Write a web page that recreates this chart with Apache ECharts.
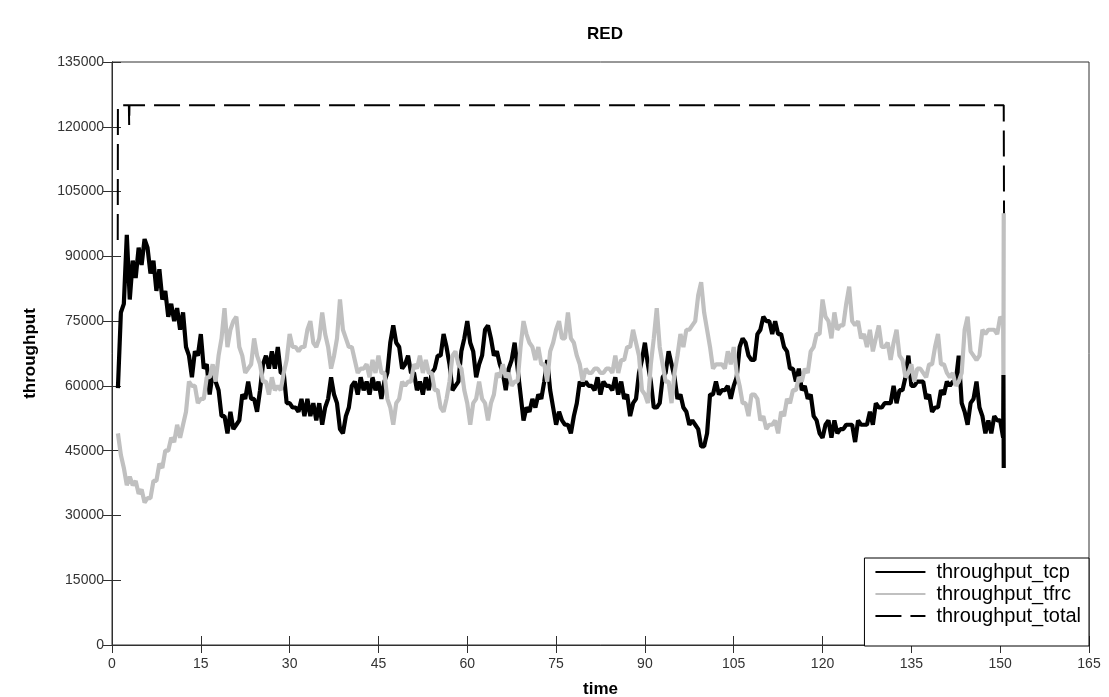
<!DOCTYPE html>
<html>
<head>
<meta charset="utf-8">
<script src="https://cdn.jsdelivr.net/npm/echarts@6/dist/echarts.min.js"></script>
<style>
html,body{margin:0;padding:0;background:#fff;}
#chart{width:1109px;height:697px;}
</style>
</head>
<body>
<div id="chart"></div>
<script>
// Sampling of the noisy series: start time and step (time units)
const sampleStart = 1.0;
const sampleStep = 0.5;

// throughput_tcp, in thousands (t = 1.0 ... 150.5)
const tcpK = [
59.5, 77, 79, 95, 80, 89, 85, 92, 88, 94,
92, 86, 89, 82, 87, 80, 82, 76, 79, 75,
78, 73, 77, 69, 67, 62, 68, 67, 72, 64,
65, 58, 63, 61, 59, 53, 53, 49, 54, 50,
51, 52, 58, 57, 61, 57, 57, 54, 59, 65,
67, 64, 68, 64, 69, 63, 63, 56, 56, 55,
55, 54, 57, 53, 57, 53, 56, 52, 56, 51,
55, 57, 62, 58, 56, 50, 49, 53, 55, 60,
61, 58, 62, 59, 61, 58, 62, 59, 61, 57,
61, 63, 70, 74, 70, 69, 64, 65, 67, 63,
63, 59, 61, 58, 62, 59, 63, 64, 67, 67,
72, 69, 65, 59, 60, 61, 68, 71, 75, 70,
68, 62, 65, 67, 73, 74, 71, 67, 68, 65,
63, 59, 64, 66, 70, 64, 58, 52, 55, 54,
57, 55, 58, 57, 61, 66, 59, 55, 51, 54,
52, 51, 51, 49, 53, 56, 61, 60, 61, 60,
60, 59, 62, 58, 61, 60, 60, 59, 62, 58,
61, 57, 58, 53, 56, 57, 63, 66, 70, 65,
61, 55, 55, 56, 62, 63, 68, 65, 62, 57,
58, 55, 54, 51, 52, 51, 50, 46, 46, 49,
58, 58, 61, 58, 59, 59, 60, 57, 60, 62,
69, 71, 70, 67, 66, 66, 72, 73, 76, 75,
75, 72, 75, 72, 72, 69, 68, 64, 64, 61,
64, 59, 60, 57, 58, 53, 52, 49, 48, 51,
52, 48, 52, 49, 50, 50, 51, 51, 51, 47,
52, 51, 51, 51, 54, 51, 56, 55, 55, 56,
56, 56, 60, 56, 59, 59, 62, 67, 60, 60,
61, 61, 61, 57, 58, 54, 55, 55, 59, 58,
61, 60, 61, 61, 67, 56, 54, 51, 56, 57,
61, 55, 53, 49, 52, 49, 53, 52, 52, 48
];
const tcpEndT = [150.55, 150.6];
const tcpEndK = [62.5, 41];

// throughput_tfrc, in thousands (t = 1.0 ... 150.5)
const tfrcK = [
49, 44, 41, 37, 39, 37, 38, 35, 36, 33,
34, 34, 38, 38, 42, 41, 45, 45, 48, 47,
51, 48, 51, 54, 61, 60, 60, 56, 57, 57,
62, 62, 65, 61, 67, 71, 78, 69, 73, 75,
76, 69, 67, 63, 64, 65, 71, 67, 65, 61,
61, 58, 62, 59, 60, 59, 63, 66, 72, 69,
69, 68, 69, 69, 73, 75, 70, 69, 71, 77,
72, 69, 64, 67, 71, 80, 73, 71, 69, 69,
66, 63, 64, 64, 65, 62, 66, 63, 67, 63,
63, 57, 55, 51, 56, 57, 61, 60, 61, 61,
65, 64, 67, 63, 66, 63, 63, 59, 59, 55,
54, 57, 61, 67, 68, 65, 64, 59, 56, 51,
56, 57, 61, 57, 56, 52, 56, 58, 63, 62,
65, 62, 63, 60, 61, 61, 69, 75, 72, 70,
69, 66, 69, 65, 65, 61, 68, 70, 73, 75,
71, 71, 77, 71, 70, 67, 65, 61, 64, 63,
63, 64, 64, 63, 63, 64, 64, 63, 67, 63,
66, 66, 69, 69, 73, 70, 67, 59, 58, 56,
65, 71, 78, 69, 65, 61, 61, 56, 63, 67,
72, 69, 73, 73, 74, 75, 81, 84, 77, 73,
69, 64, 65, 65, 65, 64, 68, 65, 69, 63,
60, 56, 56, 53, 58, 58, 57, 52, 53, 50,
51, 51, 52, 49, 54, 53, 57, 56, 59, 59,
62, 61, 64, 63, 68, 69, 72, 72, 80, 76,
75, 71, 77, 73, 74, 74, 79, 83, 75, 74,
75, 71, 72, 69, 73, 68, 71, 74, 69, 69,
70, 66, 70, 73, 67, 66, 62, 63, 65, 61,
64, 64, 63, 62, 65, 65, 69, 72, 65, 65,
63, 62, 63, 60, 61, 63, 73, 76, 68, 67,
66, 67, 73, 72, 73, 73, 73, 72, 76, 75
];
const tfrcEndT = [150.55, 150.6];
const tfrcEndK = [62.5, 100];

// throughput_total, in thousands
const totalT = [0.97, 1.0, 2.85, 2.9, 2.95, 150.6, 150.65];
const totalK = [93.8, 125, 125, 120.4, 125, 125, 100];

// axes
const xTicks = [0, 15, 30, 45, 60, 75, 90, 105, 120, 135, 150, 165];
const yTicks = [0, 15000, 30000, 45000, 60000, 75000, 90000, 105000, 120000, 135000];
const seriesNames = ['throughput_tcp', 'throughput_tfrc', 'throughput_total'];

function build(valsK, endT, endK) {
  const out = valsK.map((v, i) => [sampleStart + sampleStep * i, v * 1000]);
  endT.forEach((t, i) => out.push([t, endK[i] * 1000]));
  return out;
}
const tcpData = build(tcpK, tcpEndT, tcpEndK);
const tfrcData = build(tfrcK, tfrcEndT, tfrcEndK);
const totalData = totalT.map((t, i) => [t, totalK[i] * 1000]);

const FONT = "'Liberation Sans', Arial, sans-serif";
const AX = '#303030';

const chart = echarts.init(document.getElementById('chart'), null, {renderer: 'canvas'});
const xMin = xTicks[0], xMax = xTicks[xTicks.length - 1], xInt = xTicks[1] - xTicks[0];
const yMin = yTicks[0], yMax = yTicks[yTicks.length - 1], yInt = yTicks[1] - yTicks[0];

chart.setOption({
  animation: false,
  backgroundColor: '#ffffff',
  title: {
    text: 'RED',
    left: 600, top: 21, textAlign: 'center',
    textStyle: {fontFamily: FONT, fontWeight: 'bold', fontSize: 17, color: '#000'}
  },
  grid: {left: 112, right: 20, top: 62, bottom: 52, show: true, borderColor: AX, borderWidth: 1,
         containLabel: false, outerBoundsMode: 'none'},
  legend: {
    data: seriesNames,
    orient: 'vertical',
    right: 20, bottom: 51,
    itemWidth: 50, itemHeight: 16, itemGap: 2,
    padding: [4, 8, 20, 10],
    borderColor: '#000', borderWidth: 1, borderRadius: 0,
    backgroundColor: '#fff',
    itemStyle: {opacity: 0},
    textStyle: {fontFamily: FONT, fontSize: 20, color: '#000', lineHeight: 20, padding: [0, 0, 0, 6]}
  },
  xAxis: [{
    type: 'value', min: xMin, max: xMax, interval: xInt, position: 'bottom',
    name: 'time', nameLocation: 'middle', nameGap: 36,
    nameTextStyle: {fontFamily: FONT, fontWeight: 'bold', fontSize: 17, color: '#000'},
    axisLine: {show: true, lineStyle: {color: AX}},
    axisTick: {show: true, inside: true, length: 9, lineStyle: {color: AX}},
    axisLabel: {fontFamily: FONT, fontSize: 14, color: '#333', margin: 12, formatter: v => String(v)},
    splitLine: {show: false}
  }, {
    type: 'value', min: xMin, max: xMax, interval: xInt, position: 'top',
    axisLine: {show: true, lineStyle: {color: AX}},
    axisTick: {show: true, inside: true, length: 8, lineStyle: {color: AX}},
    axisLabel: {show: false}, splitLine: {show: false}
  }],
  yAxis: [{
    type: 'value', min: yMin, max: yMax, interval: yInt, position: 'left',
    name: 'throughput', nameLocation: 'middle', nameGap: 73,
    nameTextStyle: {fontFamily: FONT, fontWeight: 'bold', fontSize: 17, color: '#000'},
    axisLine: {show: true, lineStyle: {color: AX}},
    axisTick: {show: true, inside: true, length: 9, lineStyle: {color: AX}},
    axisLabel: {fontFamily: FONT, fontSize: 14, color: '#333', margin: 8, formatter: v => String(v)},
    splitLine: {show: false}
  }, {
    type: 'value', min: yMin, max: yMax, interval: yInt, position: 'right',
    axisLine: {show: true, lineStyle: {color: AX}},
    axisTick: {show: true, inside: true, length: 9, lineStyle: {color: AX}},
    axisLabel: {show: false}, splitLine: {show: false}
  }],
  series: [{
    name: seriesNames[0], type: 'line', data: tcpData,
    symbol: 'none', showSymbol: false,
    lineStyle: {color: '#000000', width: 4.2},
    itemStyle: {color: '#000000'}
  }, {
    name: seriesNames[1], type: 'line', data: tfrcData,
    symbol: 'none', showSymbol: false,
    lineStyle: {color: '#c0c0c0', width: 4.2},
    itemStyle: {color: '#c0c0c0'}
  }, {
    name: seriesNames[2], type: 'line', data: totalData,
    symbol: 'none', showSymbol: false,
    lineStyle: {color: '#000000', width: 2, type: [26, 9]},
    itemStyle: {color: '#000000'}
  }]
});
</script>
</body>
</html>
